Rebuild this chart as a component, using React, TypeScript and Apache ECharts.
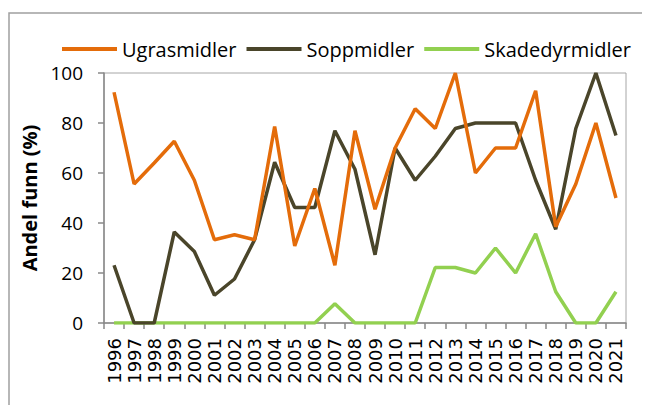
import React, { useEffect, useRef } from "react";
import * as echarts from "echarts";

const years = ["1996","1997","1998","1999","2000","2001","2002","2003","2004","2005","2006","2007","2008","2009","2010","2011","2012","2013","2014","2015","2016","2017","2018","2019","2020","2021"];
const ugrasmidler = [92.3, 55.6, 64, 72.7, 57.1, 33.3, 35.3, 33.3, 78.6, 30.8, 53.8, 23.1, 76.9, 45.5, 70, 85.7, 77.8, 100, 60, 70, 70, 92.9, 38.5, 55.6, 80, 50];
const soppmidler = [23.1, 0, 0, 36.4, 28.6, 11.1, 17.6, 33.3, 64.3, 46.2, 46.2, 76.9, 61.5, 27.3, 70, 57.1, 66.7, 77.8, 80, 80, 80, 57.1, 37.5, 77.8, 100, 75];
const skadedyrmidler = [0, 0, 0, 0, 0, 0, 0, 0, 0, 0, 0, 7.7, 0, 0, 0, 0, 22.2, 22.2, 20, 30, 20, 35.7, 12.5, 0, 0, 12.5];
const seriesNames = ["Ugrasmidler", "Soppmidler", "Skadedyrmidler"];
const colors = ["#E46C0A", "#4A452A", "#92D050"];

export default function App() {
  const ref = useRef<HTMLDivElement>(null);
  useEffect(() => {
    if (!ref.current) return;
    const chart = echarts.init(ref.current, null, { renderer: "svg" });
    const dataSets = [ugrasmidler, soppmidler, skadedyrmidler];
    chart.setOption({
      animation: false,
      graphic: [
        {
          type: "rect",
          shape: { x: 1, y: 5, width: 800, height: 600 },
          style: { fill: "none", stroke: "#a0a0a0", lineWidth: 1.5 },
          silent: true,
        },
      ],
      legend: {
        top: 26,
        left: 49,
        icon: "rect",
        itemWidth: 55,
        itemHeight: 4,
        itemGap: 10,
        textStyle: { fontFamily: "Open Sans", fontSize: 20, color: "#000" },
        data: seriesNames,
      },
      grid: {
        left: 96,
        right: 24,
        top: 65,
        bottom: 82,
        show: true,
        borderColor: "#a6a6a6",
        borderWidth: 1,
        containLabel: false,
      },
      xAxis: {
        type: "category",
        data: years,
        boundaryGap: true,
        axisLine: { lineStyle: { color: "#898989", width: 1.5 } },
        axisTick: { show: true, inside: false, length: 6, alignWithLabel: false, interval: 0, lineStyle: { color: "#898989", width: 1.5 } },
        axisLabel: {
          interval: 0,
          rotate: 90,
          margin: 15,
          fontFamily: "DejaVu Sans",
          fontSize: 18,
          color: "#000",
        },
        splitLine: { show: false },
      },
      yAxis: {
        type: "value",
        min: 0,
        max: 100,
        interval: 20,
        name: "Andel funn (%)",
        nameLocation: "middle",
        nameGap: 64,
        nameTextStyle: { fontFamily: "Open Sans", fontSize: 20, fontWeight: "bold", color: "#000" },
        axisLine: { show: true, lineStyle: { color: "#898989", width: 1.5 } },
        axisTick: { show: true, length: 6, lineStyle: { color: "#898989", width: 1.5 } },
        axisLabel: { margin: 21, fontFamily: "Open Sans", fontSize: 19, color: "#000" },
        splitLine: { show: false },
      },
      series: seriesNames.map((name, i) => ({
        name,
        type: "line",
        data: dataSets[i],
        symbol: "none",
        color: colors[i],
        lineStyle: { color: colors[i], width: 3.5 },
        z: 3 - i,
      })),
    });
    return () => chart.dispose();
  }, []);
  return <div ref={ref} style={{ width: 642, height: 397 }} />;
}
